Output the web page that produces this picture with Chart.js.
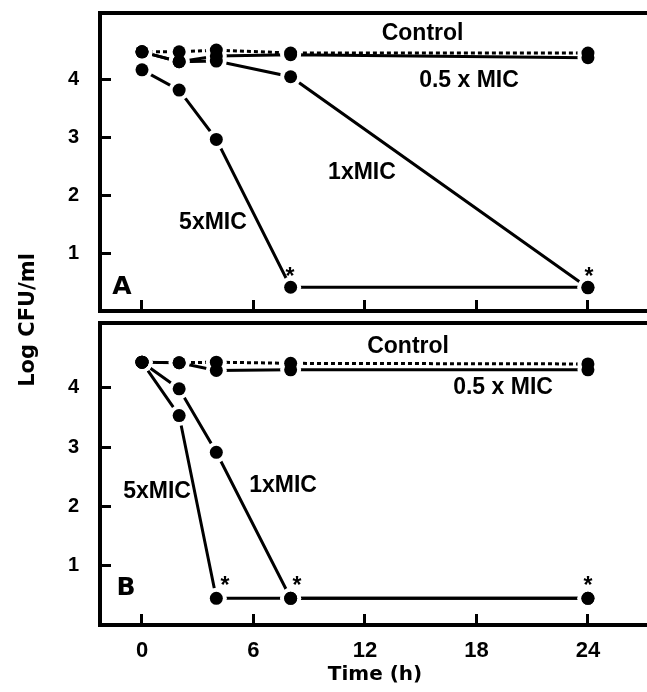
<!DOCTYPE html>
<html><head><meta charset="utf-8">
<script src="https://cdn.jsdelivr.net/npm/chart.js@4/dist/chart.umd.min.js"></script>
<style>
html,body{margin:0;padding:0;background:#fff;overflow:hidden;width:647px;height:692px;position:relative}
canvas{display:block}
#wrapA{position:absolute;left:0;top:0;width:670px;height:692px}
#wrapB{position:absolute;left:0;top:310px;width:670px;height:382px}
</style></head><body>
<div id="wrapA"><canvas id="cA" width="670" height="692"></canvas></div>
<div id="wrapB"><canvas id="cB" width="670" height="382"></canvas></div>
<script>
// ---- data ----
const times = [0, 2, 4, 8, 24];
const xTicks = [0, 6, 12, 18, 24];
const yTicks = [1, 2, 3, 4];
const seriesNames = ['Control', '0.5 x MIC', '1xMIC', '5xMIC'];

const controlA = [4.47, 4.47, 4.50, 4.45, 4.45];
const halfMicA = [4.47, 4.30, 4.40, 4.42, 4.37];
const oneMicA  = [4.47, 4.30, 4.31, 4.04, 0.40];
const fiveMicA = [4.16, 3.81, 2.96, 0.41, 0.41];

const controlB = [4.43, 4.42, 4.43, 4.41, 4.40];
const halfMicB = [4.43, 4.42, 4.29, 4.30, 4.30];
const oneMicB  = [4.43, 3.98, 2.91, 0.45, 0.45];
const fiveMicB = [4.43, 3.53, 0.45, 0.45, 0.45];

// text annotations: [text, time, logCFU]
const notesA = [
  ['Control', 15.1, 4.79], ['0.5 x MIC', 17.6, 3.97], ['1xMIC', 11.84, 2.38],
  ['5xMIC', 3.82, 1.53], ['A', -1.08, 0.41], ['*', 7.97, 0.57], ['*', 24.06, 0.57]
];
const notesB = [
  ['Control', 14.32, 4.69], ['0.5 x MIC', 19.43, 4.0], ['1xMIC', 7.59, 2.35],
  ['5xMIC', 0.81, 2.25], ['B', -0.86, 0.62], ['*', 4.47, 0.65], ['*', 8.34, 0.65], ['*', 24.0, 0.65]
];

// ---- styling ----
const LIB = '"Liberation Sans", Arial, sans-serif';
const DJV = '"DejaVu Sans", sans-serif';

function pts(v) { return times.map((t, k) => ({x: t, y: v[k]})); }

// draw order: first dataset on top -> dots, then white halos, then lines
function mkDatasets(vals) {
  const dots = vals.map((v, i) => ({
    label: seriesNames[i], data: pts(v), showLine: false,
    pointRadius: 6.5, pointHoverRadius: 6.5, pointBorderWidth: 0,
    pointBackgroundColor: '#000', backgroundColor: '#000', borderColor: '#000'
  }));
  const halos = vals.map((v, i) => ({
    label: seriesNames[i] + ' halo', data: pts(v), showLine: false,
    pointRadius: 10.5, pointHoverRadius: 10.5, pointBorderWidth: 0,
    pointBackgroundColor: '#fff', backgroundColor: '#fff', borderColor: '#fff'
  }));
  const lines = vals.map((v, i) => ({
    label: seriesNames[i] + ' line', data: pts(v),
    borderColor: '#000', borderWidth: 3,
    borderDash: i === 0 ? [4, 3] : [],
    pointRadius: 0, pointHoverRadius: 0, tension: 0, fill: false
  }));
  return [...dots, ...halos, ...lines];
}

const framePlugin = {
  id: 'frame',
  afterDraw(chart) {
    const {ctx, chartArea: a} = chart;
    ctx.save();
    ctx.strokeStyle = '#000';
    ctx.lineWidth = 4;
    ctx.strokeRect(a.left, a.top, a.right - a.left, a.bottom - a.top);
    ctx.restore();
  }
};

const notesPlugin = {
  id: 'notes',
  afterDatasetsDraw(chart, args, opts) {
    const {ctx, scales: {x, y}} = chart;
    ctx.save();
    ctx.fillStyle = '#000';
    ctx.textAlign = 'center';
    ctx.textBaseline = 'middle';
    for (const [txt, t, v] of opts.items) {
      if (txt === 'A' || txt === 'B') ctx.font = 'bold 25px ' + DJV;
      else if (txt === '*') ctx.font = 'bold 23px ' + LIB;
      else ctx.font = 'bold 23px ' + LIB;
      ctx.fillText(txt, x.getPixelForValue(t), y.getPixelForValue(v));
    }
    ctx.restore();
  }
};

function zeroPad(s) { s.paddingTop = 0; s.paddingBottom = 0; s.paddingLeft = 0; s.paddingRight = 0; }

function mkScales(cfg) {
  return {
    x: {
      type: 'linear', min: -2.26, max: 27.34,
      afterBuildTicks: s => { s.ticks = xTicks.map(v => ({value: v})); },
      afterFit: s => { s.height = cfg.xHeight; zeroPad(s); },
      border: {display: false},
      grid: {display: true, drawOnChartArea: false, drawTicks: true, tickLength: -11, tickWidth: 3, color: '#000'},
      ticks: {display: cfg.xLabels, padding: 24, color: '#000', font: {family: LIB, size: 22, weight: 'bold'}},
      title: cfg.xLabels ? {display: true, text: 'Time (h)', color: '#000', padding: {top: 0, bottom: 5},
        font: {family: DJV, size: 20, weight: 'bold'}} : {display: false}
    },
    y: {
      type: 'linear', min: 0, max: cfg.yMax,
      afterBuildTicks: s => { s.ticks = yTicks.map(v => ({value: v})); },
      afterFit: s => { s.width = cfg.yWidth; zeroPad(s); },
      border: {display: false},
      grid: {display: true, drawOnChartArea: false, drawTicks: true, tickLength: -11, tickWidth: 3, color: '#000'},
      ticks: {padding: 32, color: '#000', font: {family: LIB, size: 20, weight: 'bold'}}
    }
  };
}

const common = {responsive: false, animation: false, events: []};

new Chart(document.getElementById('cA'), {
  type: 'line',
  data: {datasets: mkDatasets([controlA, halfMicA, oneMicA, fiveMicA])},
  options: {
    ...common,
    layout: {autoPadding: false, padding: {top: 13, right: 20, bottom: 65, left: 0}},
    plugins: {
      legend: {display: false}, tooltip: {enabled: false},
      title: {display: true, position: 'left', text: 'Log CFU/ml', color: '#000',
        padding: {top: 16, bottom: 0}, font: {family: DJV, size: 21, weight: 'bold'}},
      notes: {items: notesA}
    },
    scales: mkScales({xHeight: 316, xLabels: false, yMax: 5.14, yWidth: 100 - 41.2})
  },
  plugins: [framePlugin, notesPlugin]
});

new Chart(document.getElementById('cB'), {
  type: 'line',
  data: {datasets: mkDatasets([controlB, halfMicB, oneMicB, fiveMicB])},
  options: {
    ...common,
    layout: {autoPadding: false, padding: {top: 13, right: 20, bottom: 0, left: 0}},
    plugins: {
      legend: {display: false}, tooltip: {enabled: false},
      notes: {items: notesB}
    },
    scales: mkScales({xHeight: 67, xLabels: true, yMax: 5.09, yWidth: 100})
  },
  plugins: [framePlugin, notesPlugin]
});
</script>
</body></html>
